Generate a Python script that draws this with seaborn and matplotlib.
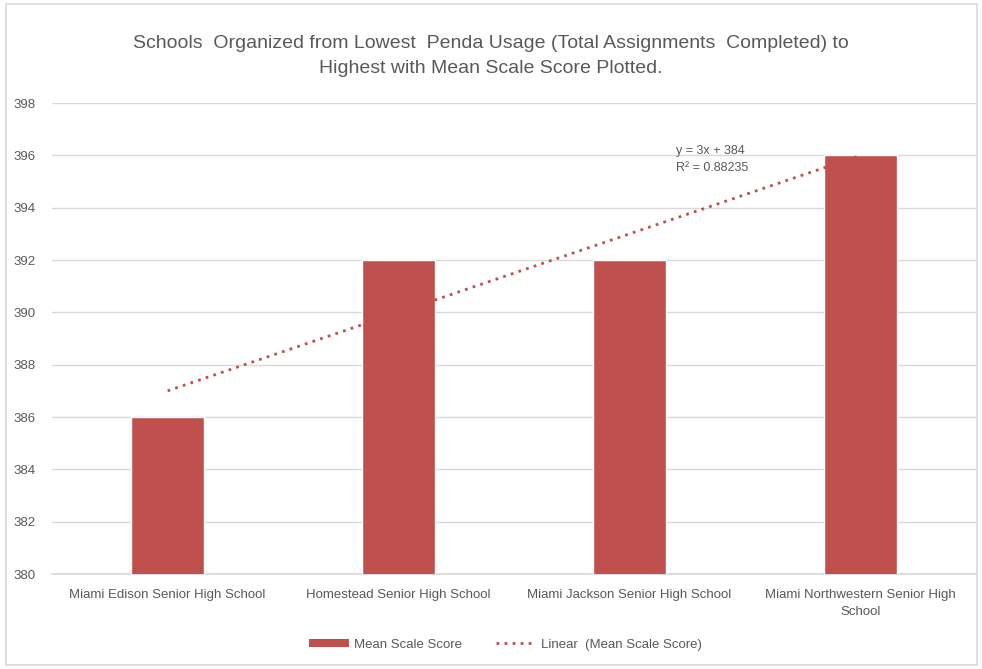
import matplotlib
matplotlib.use("Agg")
import matplotlib.pyplot as plt
import seaborn as sns
import numpy as np
import pandas as pd
from matplotlib.lines import Line2D
from matplotlib.patches import Patch, Rectangle

schools = ["Miami Edison Senior High School", "Homestead Senior High School",
           "Miami Jackson Senior High School", "Miami Northwestern Senior High\nSchool"]
scores = [386, 392, 392, 396]
trend_slope = 3
trend_intercept = 384
eq_text = "y = 3x + 384\nR² = 0.88235"

sns.set_theme(style="white")
plt.rcParams['font.family'] = ['Liberation Sans', 'DejaVu Sans']

txt = "#595959"
bar_color = "#C0504D"
df = pd.DataFrame({"School": schools, "Score": scores})

fig = plt.figure(figsize=(9.82, 6.69), dpi=100)
ax = fig.add_axes([0.053, 0.142, 0.941, 0.704])

sns.barplot(data=df, x="School", y="Score", color=bar_color, width=0.316,
            saturation=1, ax=ax, zorder=3)
ax.set_ylim(380, 398)
ax.set_xlim(-0.5, len(schools) - 0.5)
ax.set_yticks(np.arange(380, 399, 2))
ax.yaxis.grid(True, color="#D9D9D9", linewidth=1)
ax.set_axisbelow(True)
for s in ["top", "right", "left"]:
    ax.spines[s].set_visible(False)
ax.spines["bottom"].set_color("#D9D9D9")
ax.set_xlabel("")
ax.set_ylabel("")
ax.tick_params(axis="both", length=0, colors=txt, labelsize=9.5)
ax.tick_params(axis="x", pad=11)
ax.tick_params(axis="y", pad=12)
for lbl in ax.get_xticklabels():
    lbl.set_linespacing(1.5)

xs = np.arange(len(schools))
ax.plot(xs[[0, -1]], trend_slope * (xs[[0, -1]] + 1) + trend_intercept,
        linestyle=(0, (1, 1.9)), color=bar_color, linewidth=2, zorder=4)
ax.text(2.2, 396.4, eq_text, color=txt, fontsize=9, ha="left", va="top",
        linespacing=1.6)

fig.suptitle("Schools  Organized from Lowest  Penda Usage (Total Assignments  Completed) to\nHighest with Mean Scale Score Plotted.",
             y=0.948, fontsize=14, color=txt, linespacing=1.65)

handles = [Patch(facecolor=bar_color, edgecolor="none"),
           Line2D([0], [0], color=bar_color, linestyle=(0, (1, 1.9)), linewidth=2)]
fig.legend(handles, ["Mean Scale Score", "Linear  (Mean Scale Score)"],
           loc="center", bbox_to_anchor=(0.515, 0.036), ncol=2, frameon=False,
           fontsize=9.5, labelcolor=txt, handlelength=3.0, handleheight=0.6,
           columnspacing=2.6, handletextpad=0.4)

fig.patches.append(Rectangle((0.006, 0.006), 0.989, 0.988, transform=fig.transFigure,
                             fill=False, edgecolor="#D9D9D9", linewidth=1.2))
fig.savefig("out.png", dpi=100)
